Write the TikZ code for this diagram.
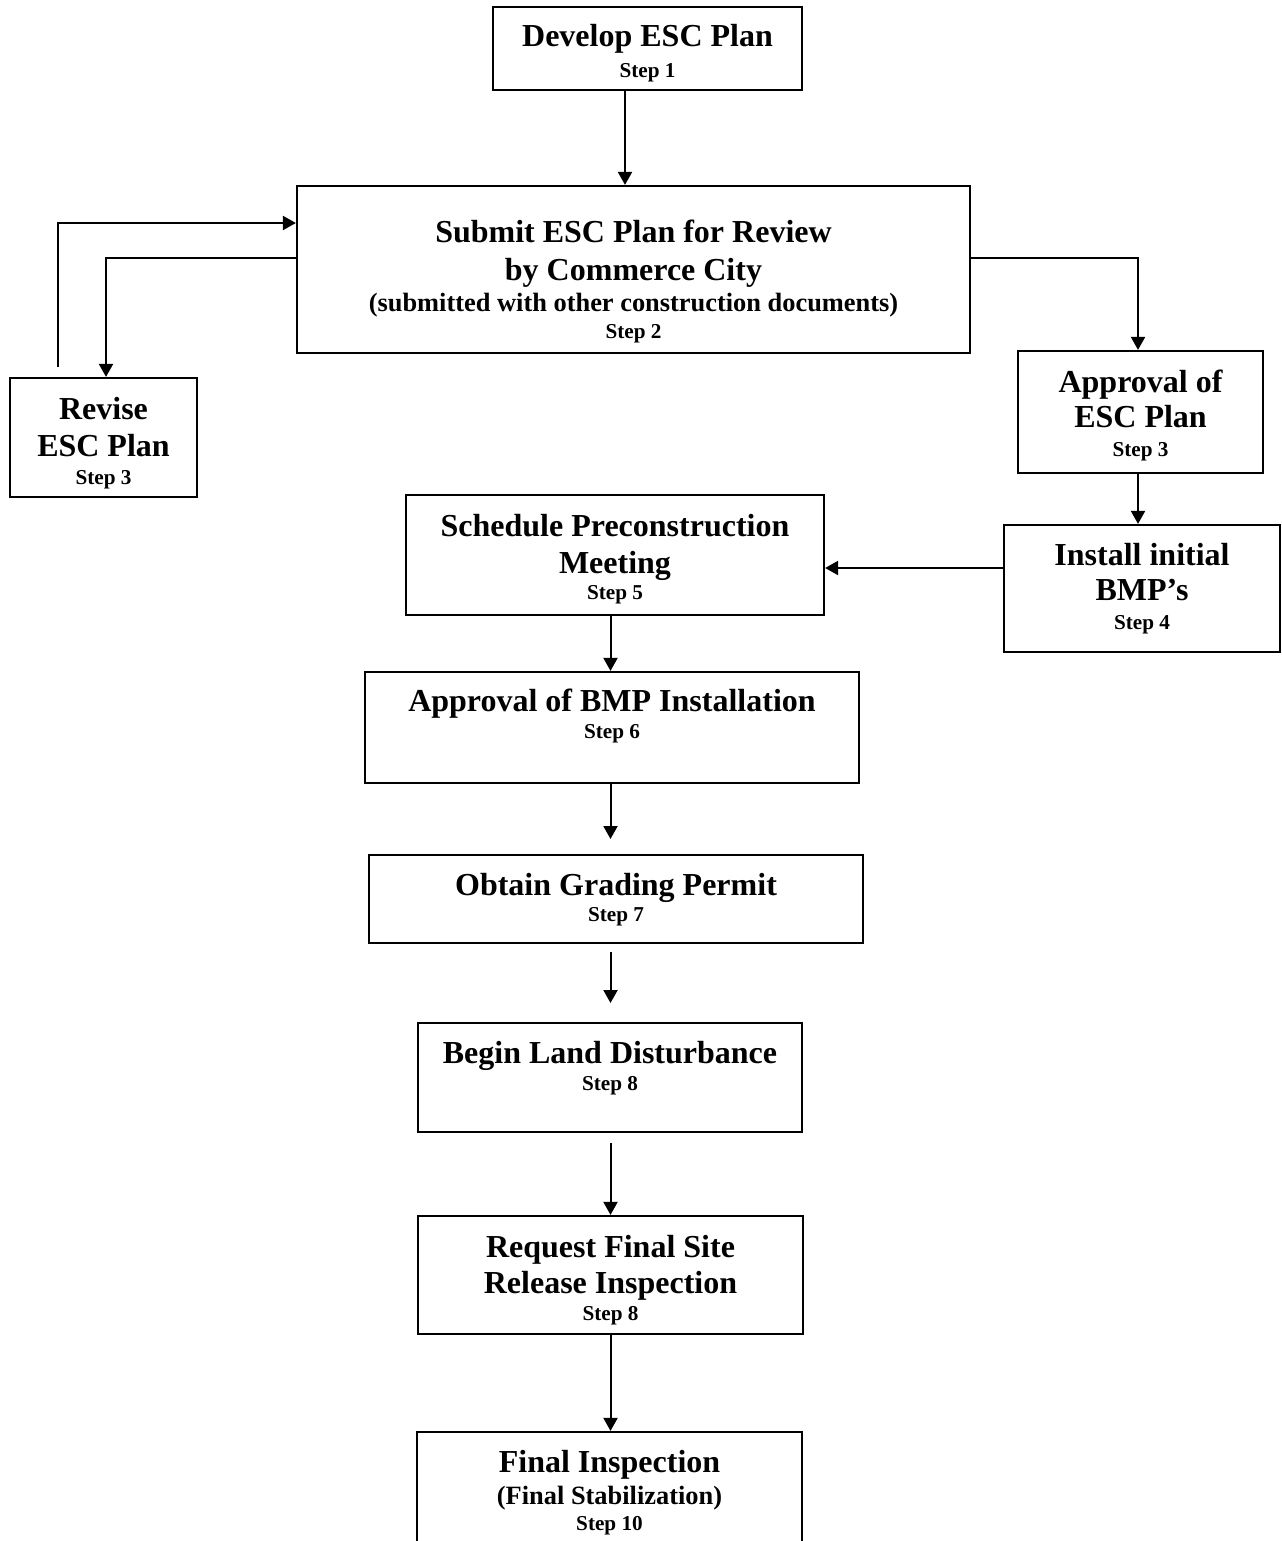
\documentclass[tikz,border=0pt]{standalone}
\usepackage{fontspec}
\setmainfont{Liberation Serif}
\usetikzlibrary{arrows.meta,calc}

\tikzset{
  box/.style={draw, rectangle, line width=1.1pt, inner sep=0pt},
  arr/.style={line width=1pt, -{Triangle[length=6.5pt,width=7pt]}},
  ttltext/.style={font=\fontsize{16}{18}\selectfont\bfseries, inner sep=0pt, text height=10.6pt, text depth=0pt},
  subtext/.style={font=\fontsize{13.2}{15}\selectfont\bfseries, inner sep=0pt, text height=8.74pt, text depth=0pt},
  steptext/.style={font=\fontsize{10.6}{12}\selectfont\bfseries, inner sep=0pt, text height=7.02pt, text depth=0pt},
}

\begin{document}
\begin{tikzpicture}[x=0.5pt, y=-0.5pt]
\clip (0,0) rectangle (1281,1541);
\fill[white] (0,0) rectangle (1281,1541);

% ---- boxes ----
\node[box, minimum width=154.5pt, minimum height=41.5pt] (dev)  at (647.5,48.5) {};
\node[box, minimum width=336.5pt, minimum height=83.5pt] (sub)  at (633.5,269.5) {};
\node[box, minimum width=93.5pt,  minimum height=59.5pt] (rev)  at (103.5,437.5) {};
\node[box, minimum width=122.5pt, minimum height=61pt]   (apc)  at (1140.5,412) {};
\node[box, minimum width=138pt,   minimum height=63.5pt] (ins)  at (1142,588.5) {};
\node[box, minimum width=209pt,   minimum height=60pt]   (sch)  at (615,555) {};
\node[box, minimum width=247pt,   minimum height=55.5pt] (abmp) at (612,727.5) {};
\node[box, minimum width=247pt,   minimum height=44pt]   (obt)  at (616,899) {};
\node[box, minimum width=192pt,   minimum height=54.5pt] (beg)  at (610,1077.5) {};
\node[box, minimum width=192.5pt, minimum height=59pt]   (req)  at (610.5,1275) {};
\node[box, minimum width=192.5pt, minimum height=70pt]   (fin)  at (609.5,1502) {};

% ---- box texts ----
\node[ttltext]  (dev-a) at (647.5,36)   {Develop ESC Plan};
\node[steptext] (dev-b) at (647.5,70.5) {Step 1};

\node[ttltext]  (sub-a) at (633.5,232) {Submit ESC Plan for Review};
\node[ttltext]  (sub-b) at (633.5,270) {by Commerce City};
\node[subtext]  (sub-c) at (633.5,303) {(submitted with other construction documents)};
\node[steptext] (sub-d) at (633.5,331) {Step 2};

\node[ttltext]  (rev-a) at (103.5,409) {Revise};
\node[ttltext]  (rev-b) at (103.5,446) {ESC Plan};
\node[steptext] (rev-c) at (103.5,477) {Step 3};

\node[ttltext]  (apc-a) at (1140.5,382) {Approval of};
\node[ttltext]  (apc-b) at (1140.5,417) {ESC Plan};
\node[steptext] (apc-c) at (1140.5,449) {Step 3};

\node[ttltext]  (ins-a) at (1142,555) {Install initial};
\node[ttltext]  (ins-b) at (1142,590) {BMP’s};
\node[steptext] (ins-c) at (1142,622) {Step 4};

\node[ttltext]  (sch-a) at (615,526) {Schedule Preconstruction};
\node[ttltext]  (sch-b) at (615,563) {Meeting};
\node[steptext] (sch-c) at (615,592) {Step 5};

\node[ttltext]  (abmp-a) at (612,701) {Approval of BMP Installation};
\node[steptext] (abmp-b) at (612,731) {Step 6};

\node[ttltext]  (obt-a) at (616,885) {Obtain Grading Permit};
\node[steptext] (obt-b) at (616,914) {Step 7};

\node[ttltext]  (beg-a) at (610,1053) {Begin Land Disturbance};
\node[steptext] (beg-b) at (610,1083) {Step 8};

\node[ttltext]  (req-a) at (610.5,1247) {Request Final Site};
\node[ttltext]  (req-b) at (610.5,1283) {Release Inspection};
\node[steptext] (req-c) at (610.5,1313) {Step 8};

\node[ttltext]  (fin-a) at (609.5,1462) {Final Inspection};
\node[subtext]  (fin-b) at (609.5,1496) {(Final Stabilization)};
\node[steptext] (fin-c) at (609.5,1523) {Step 10};

% ---- guide coordinates for connector routing ----
\coordinate (xdev) at (625,0);
\coordinate (xup)  at (58,0);
\coordinate (xdn)  at (106,0);
\coordinate (xapp) at (1138,0);
\coordinate (xmid) at (610.5,0);
\coordinate (yup)  at (0,223);
\coordinate (ysub) at (0,258);
\coordinate (yins) at (0,568);

% free ends
\coordinate (revout) at (58,367);
\coordinate (abmpin) at (610.5,839);
\coordinate (obtout) at (610.5,952);
\coordinate (begin)  at (610.5,1003);
\coordinate (begout) at (610.5,1143);

% ---- connectors ----
\draw[arr] (dev.south -| xdev) -- (sub.north -| xdev);
\draw[arr] (revout) |- (sub.west |- yup);
\draw[arr] (sub.west |- ysub) -| (rev.north -| xdn);
\draw[arr] (sub.east |- ysub) -| (apc.north -| xapp);
\draw[arr] (apc.south -| xapp) -- (ins.north -| xapp);
\draw[arr] (ins.west |- yins) -- (sch.east |- yins);
\draw[arr] (sch.south -| xmid) -- (abmp.north -| xmid);
\draw[arr] (abmp.south -| xmid) -- (abmpin);
\draw[arr] (obtout) -- (begin);
\draw[arr] (begout) -- (req.north -| xmid);
\draw[arr] (req.south -| xmid) -- (fin.north -| xmid);
\end{tikzpicture}
\end{document}
